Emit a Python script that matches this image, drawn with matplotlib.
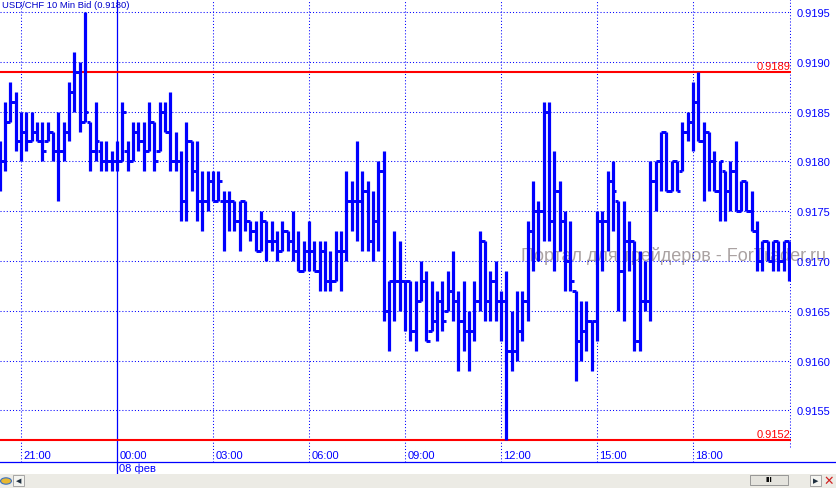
import numpy as np
import matplotlib
matplotlib.use("Agg")
from matplotlib import pyplot as plt
from matplotlib import patches
from matplotlib import transforms

# USD/CHF 10 min bars, quotes in 1/10000 (9182 -> 0.9182), first bar is 20:20
high_pips = [
    9182, 9186, 9188, 9187, 9185, 9185, 9185, 9184, 9184, 9184, 9183, 9185, 9184, 9188, 9191, 9190,
    9195, 9184, 9186, 9182, 9182, 9181, 9182, 9186, 9182, 9184, 9184, 9184, 9186, 9184, 9186, 9186,
    9187, 9183, 9181, 9184, 9182, 9182, 9179, 9179, 9179, 9179, 9177, 9177, 9176, 9176, 9176, 9174,
    9174, 9175, 9174, 9174, 9173, 9174, 9173, 9175, 9173, 9172, 9174, 9172, 9172, 9172, 9171, 9173,
    9173, 9179, 9178, 9182, 9179, 9178, 9177, 9180, 9181, 9168, 9173, 9172, 9168, 9168, 9168, 9170,
    9169, 9168, 9167, 9168, 9169, 9171, 9167, 9168, 9165, 9168, 9173, 9172, 9169, 9170, 9167, 9169,
    9165, 9167, 9167, 9174, 9178, 9176, 9186, 9186, 9181, 9178, 9175, 9174, 9167, 9166, 9166, 9164,
    9175, 9175, 9179, 9180, 9176, 9176, 9174, 9172, 9171, 9170, 9180, 9180, 9183, 9183, 9180, 9180,
    9184, 9185, 9188, 9189, 9184, 9183, 9181, 9180, 9179, 9180, 9182, 9178, 9178, 9177, 9174, 9172,
    9172, 9172, 9172, 9172, 9172,
]
low_pips = [
    9177, 9179, 9184, 9181, 9180, 9181, 9182, 9182, 9180, 9182, 9180, 9176, 9180, 9182, 9185, 9183,
    9184, 9179, 9180, 9179, 9179, 9179, 9179, 9180, 9179, 9180, 9181, 9179, 9181, 9179, 9181, 9183,
    9179, 9179, 9174, 9174, 9177, 9174, 9173, 9175, 9176, 9176, 9171, 9173, 9173, 9171, 9173, 9172,
    9171, 9171, 9170, 9171, 9170, 9171, 9171, 9170, 9169, 9169, 9169, 9169, 9167, 9167, 9167, 9168,
    9167, 9170, 9173, 9172, 9171, 9171, 9170, 9171, 9164, 9161, 9164, 9165, 9163, 9162, 9161, 9166,
    9162, 9163, 9162, 9163, 9165, 9164, 9159, 9161, 9159, 9162, 9165, 9164, 9164, 9164, 9162, 9152,
    9159, 9160, 9162, 9164, 9169, 9170, 9172, 9172, 9169, 9171, 9167, 9167, 9158, 9160, 9161, 9159,
    9162, 9169, 9171, 9173, 9165, 9164, 9169, 9161, 9161, 9165, 9164, 9175, 9177, 9177, 9177, 9177,
    9179, 9182, 9181, 9182, 9176, 9177, 9177, 9174, 9174, 9175, 9175, 9175, 9175, 9173, 9169, 9169,
    9170, 9169, 9169, 9169, 9168,
]
open_pips = [
    9181, 9180, 9184, 9186, 9182, 9183, 9182, 9183, 9182, 9182, 9183, 9181, 9181, 9183, 9187, 9189,
    9184, 9184, 9181, 9181, 9180, 9180, 9180, 9180, 9181, 9180, 9183, 9182, 9181, 9184, 9181, 9185,
    9183, 9180, 9180, 9176, 9182, 9179, 9176, 9176, 9178, 9176, 9176, 9176, 9176, 9174, 9176, 9174,
    9173, 9171, 9174, 9172, 9172, 9171, 9173, 9172, 9171, 9169, 9171, 9171, 9169, 9171, 9168, 9168,
    9171, 9171, 9176, 9176, 9176, 9177, 9172, 9174, 9179, 9165, 9168, 9168, 9168, 9168, 9163, 9166,
    9168, 9163, 9164, 9166, 9165, 9167, 9166, 9164, 9163, 9163, 9166, 9172, 9166, 9168, 9166, 9166,
    9161, 9161, 9163, 9166, 9173, 9175, 9175, 9185, 9174, 9177, 9174, 9170, 9167, 9162, 9163, 9164,
    9164, 9174, 9174, 9178, 9176, 9169, 9172, 9172, 9162, 9166, 9166, 9178, 9180, 9183, 9177, 9180,
    9179, 9183, 9184, 9186, 9182, 9183, 9180, 9177, 9179, 9177, 9179, 9175, 9178, 9175, 9173, 9170,
    9172, 9170, 9172, 9170, 9172,
]
close_pips = [
    9180, 9184, 9186, 9182, 9183, 9182, 9183, 9182, 9181, 9183, 9181, 9181, 9183, 9187, 9189, 9184,
    9185, 9181, 9182, 9180, 9180, 9180, 9180, 9185, 9180, 9183, 9182, 9181, 9184, 9180, 9185, 9183,
    9180, 9180, 9176, 9182, 9179, 9176, 9176, 9178, 9176, 9178, 9176, 9176, 9174, 9176, 9174, 9173,
    9171, 9174, 9172, 9172, 9171, 9173, 9172, 9171, 9169, 9171, 9171, 9169, 9171, 9168, 9168, 9171,
    9171, 9176, 9176, 9176, 9177, 9172, 9174, 9179, 9165, 9168, 9168, 9168, 9168, 9163, 9166, 9168,
    9162, 9164, 9166, 9164, 9167, 9166, 9164, 9163, 9163, 9166, 9172, 9166, 9168, 9166, 9166, 9161,
    9161, 9163, 9166, 9173, 9175, 9175, 9185, 9174, 9177, 9174, 9170, 9168, 9162, 9163, 9164, 9164,
    9174, 9174, 9178, 9177, 9169, 9172, 9172, 9162, 9166, 9166, 9178, 9180, 9183, 9177, 9180, 9177,
    9183, 9184, 9186, 9182, 9183, 9180, 9177, 9180, 9177, 9179, 9175, 9178, 9175, 9173, 9170, 9172,
    9170, 9172, 9170, 9172, 9170,
]
first_bar = -4  # bar index 0 is 21:00

title = "USD/CHF 10 Min Bid (0.9180)"
time_labels = ["21:00", "00:00", "03:00", "06:00", "09:00", "12:00", "15:00", "18:00"]
time_bars = [0, 18, 36, 54, 72, 90, 108, 126]
day_label = "08 фев"
price_ticks = [0.9155, 0.9160, 0.9165, 0.9170, 0.9175, 0.9180, 0.9185, 0.9190, 0.9195]
level_high = 0.9189
level_low = 0.9152
watermark = "Портал для трейдеров - ForTrader.ru"

BLUE = "#0000ff"
RED = "#ff0000"
FONT = ["Liberation Sans", "DejaVu Sans"]
W, H = 836, 489
DOTS = (0, (1, 2))


def draw_bars(ax):
    highs = np.array(high_pips) / 1e4
    lows = np.array(low_pips) / 1e4
    opens = np.array(open_pips) / 1e4
    closes = np.array(close_pips) / 1e4
    x = np.arange(len(highs)) + first_bar
    tick = 0.62
    ax.vlines(x, lows, highs, color=BLUE, lw=2.3, zorder=3)
    ax.hlines(opens, x - tick, x, color=BLUE, lw=2.1, zorder=3)
    ax.hlines(closes, x, x + tick, color=BLUE, lw=2.1, zorder=3)


def draw_grid(ax):
    for p in price_ticks:
        ax.axhline(p, color=BLUE, lw=0.75, ls=DOTS, zorder=1)
    xaxis_tr = transforms.blended_transform_factory(ax.transData, ax.transAxes)
    for b, lab in zip(time_bars, time_labels):
        if lab == "00:00":
            ax.plot([b, b], [1, -12 / 463], color=BLUE, lw=0.9,
                    transform=xaxis_tr, clip_on=False, zorder=2)
            ax.text(b + 0.4, -6 / 463, day_label, transform=xaxis_tr,
                    color=BLUE, fontsize=8, family=FONT, va="center", ha="left")
        else:
            ax.axvline(b, color=BLUE, lw=0.75, ls=DOTS, zorder=1)
        ax.text(b + 0.4, 6.5 / 463, lab, transform=xaxis_tr, color=BLUE,
                fontsize=8, family=FONT, va="center", ha="left")
    # right border of the price area
    ax.axvline(ax.get_xlim()[1] - 0.1, ymin=15 / 463, ymax=1, color=BLUE,
               lw=0.75, ls=DOTS, zorder=1)


def draw_levels(ax):
    yaxis_tr = ax.get_yaxis_transform()
    for lvl in (level_high, level_low):
        ax.axhline(lvl, color=RED, lw=1.5, zorder=2)
        ax.text(0.9995, lvl + 0.00001, f"{lvl:.4f}", transform=yaxis_tr,
                color=RED, fontsize=8, family=FONT, ha="right", va="bottom")


def draw_frame(fig):
    # bottom axis line and status strip
    fig.add_artist(plt.Line2D([0, 1], [26 / H, 26 / H], color=BLUE, lw=0.9,
                              transform=fig.transFigure))
    fig.add_artist(patches.Rectangle((0, 0), 1, 14 / H, transform=fig.transFigure,
                                     facecolor="#ecebe5", edgecolor="none"))
    fig.add_artist(patches.Circle((6 / W, 7 / H), 0.0065, transform=fig.transFigure,
                                  facecolor="#e8b830", edgecolor="#3a70c0", lw=0.8))
    fig.add_artist(patches.Rectangle((13 / W, 2 / H), 11 / W, 11 / H, transform=fig.transFigure,
                                     facecolor="#f4f4f0", edgecolor="#9a9a9a", lw=0.6))
    fig.text(18.5 / W, 7.5 / H, "◀", fontsize=5, color="#203040", ha="center", va="center",
             family="DejaVu Sans")
    fig.add_artist(patches.Rectangle((750 / W, 3 / H), 38 / W, 10 / H, transform=fig.transFigure,
                                     facecolor="#e4e3dd", edgecolor="#8a8a8a", lw=0.6))
    fig.text(769 / W, 8 / H, "III", fontsize=6, color="black", weight="bold",
             ha="center", va="center", family=FONT)
    fig.add_artist(patches.Rectangle((810 / W, 2 / H), 11 / W, 11 / H, transform=fig.transFigure,
                                     facecolor="#f4f4f0", edgecolor="#9a9a9a", lw=0.6))
    fig.text(815.5 / W, 7.5 / H, "▶", fontsize=5, color="#203040", ha="center", va="center",
             family="DejaVu Sans")
    fig.text(829 / W, 7.5 / H, "✕", fontsize=9, color="#d02020", ha="center", va="center",
             family="DejaVu Sans", weight="bold")
    fig.text(2 / W, 1 - 1 / H, title, color="#0000cc", fontsize=6.8, family=FONT,
             ha="left", va="top")
    fig.text(521 / W, 1 - 261 / H, watermark, color="#aaa2a2", fontsize=13,
             family=FONT, ha="left", va="baseline", zorder=-1)


def main():
    fig = plt.figure(figsize=(W / 100, H / 100), dpi=100)
    fig.patch.set_facecolor("white")
    ax = fig.add_axes([0, 26 / H, 791 / W, 463 / H])
    ax.patch.set_alpha(0)
    px_per_bar = 96 / 18
    ax.set_xlim(-21 / px_per_bar, (791 - 21) / px_per_bar)
    ax.set_ylim(0.9195 - 450 / 49.8 * 0.0005, 0.9195 + 13 / 49.8 * 0.0005)
    for s in ax.spines.values():
        s.set_visible(False)
    ax.set_xticks([])
    ax.set_yticks(price_ticks)
    ax.set_yticklabels([f"{p:.4f}" for p in price_ticks], family=FONT)
    ax.yaxis.tick_right()
    ax.tick_params(axis="y", length=0, pad=4, labelcolor=BLUE, labelsize=8)

    draw_grid(ax)
    draw_levels(ax)
    draw_bars(ax)
    draw_frame(fig)

    fig.savefig("out.png", dpi=100)


if __name__ == "__main__":
    main()
